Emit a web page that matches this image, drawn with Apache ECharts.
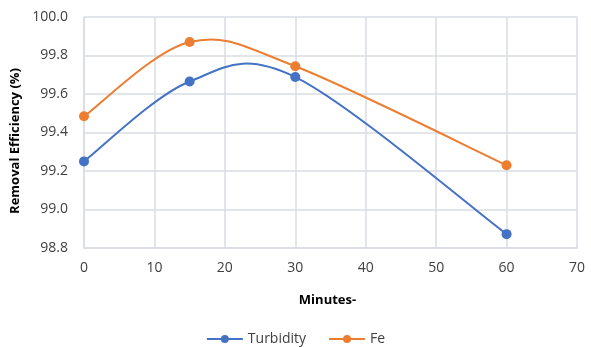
<!DOCTYPE html>
<html><head><meta charset="utf-8">
<script src="https://cdn.jsdelivr.net/npm/echarts@6/dist/echarts.min.js"></script>
<style>html,body{margin:0;padding:0;background:#fff}#c{width:591px;height:347px}</style>
</head><body><div id="c"></div>
<script>
const minutes = [0, 15, 30, 60];
const turbidity = [99.25, 99.665, 99.688, 98.872];
const fe = [99.484, 99.87, 99.744, 99.23];
const seriesNames = ['Turbidity', 'Fe'];
const xTitle = 'Minutes-';
const yTitle = 'Removal Efficiency (%)';
const colors = ['#4472c4', '#ed7d31'];

const chart = echarts.init(document.getElementById('c'), null, {renderer: 'canvas'});
const font = 'Open Sans';
const gridColor = '#d9dce3';
function pairs(xs, ys){ return xs.map((x,i)=>[x, ys[i]]); }

// Excel-style (Catmull-Rom, tension 1/6) smoothed curve drawn through the axes' coord transform
function smoothSeries(id, ys, color){
  return {
    id: id, name: id, type: 'custom', silent: true, z: 2,
    data: pairs(minutes, ys).slice(0, -1),
    renderItem: function(params, api){
      const i = params.dataIndex;
      const n = minutes.length;
      const P = k => api.coord([minutes[Math.max(0, Math.min(n-1, k))], ys[Math.max(0, Math.min(n-1, k))]]);
      const p0 = P(i-1), p1 = P(i), p2 = P(i+1), p3 = P(i+2);
      const c1 = [p1[0] + (p2[0]-p0[0])/6, p1[1] + (p2[1]-p0[1])/6];
      const c2 = [p2[0] - (p3[0]-p1[0])/6, p2[1] - (p3[1]-p1[1])/6];
      return {
        type: 'bezierCurve',
        shape: {x1: p1[0], y1: p1[1], x2: p2[0], y2: p2[1], cpx1: c1[0], cpy1: c1[1], cpx2: c2[0], cpy2: c2[1]},
        style: {stroke: color, lineWidth: 2, fill: null}
      };
    }
  };
}

chart.setOption({
  animation: false,
  textStyle: {fontFamily: font},
  grid: {left: 84, right: 14, top: 17, bottom: 99},
  legend: {
    top: 327, left: 'center', itemWidth: 36, itemHeight: 10, itemGap: 22,
    textStyle: {fontSize: 14, color: '#404040', fontFamily: font},
    data: seriesNames.map((n, i) => ({
      name: n,
      itemStyle: {color: colors[i]},
      lineStyle: {width: 2, opacity: 1, color: colors[i]}
    }))
  },
  graphic: [{
    type: 'text', x: 15, y: 141, rotation: Math.PI/2,
    style: {text: yTitle, fontFamily: font, fontWeight: 'bold', fontSize: 13, fill: '#000', align: 'center', verticalAlign: 'middle'}
  }],
  xAxis: {
    type: 'value', min: 0, max: 70, interval: 10,
    name: xTitle, nameLocation: 'middle', nameGap: 46,
    nameTextStyle: {fontWeight: 'bold', fontSize: 13, color: '#000', fontFamily: font, padding: [0, 6, 0, 0]},
    axisLine: {show: true, lineStyle: {color: gridColor, width: 1.5}},
    axisTick: {show: false},
    axisLabel: {fontSize: 14, color: '#404040', margin: 13},
    splitLine: {show: true, lineStyle: {color: gridColor, width: 1.5}}
  },
  yAxis: {
    type: 'value', min: 98.8, max: 100.0, interval: 0.2,
    axisLine: {show: true, lineStyle: {color: gridColor, width: 1.5}},
    axisTick: {show: false},
    axisLabel: {fontSize: 14, color: '#404040', margin: 16, formatter: v => v.toFixed(1)},
    splitLine: {show: true, lineStyle: {color: gridColor, width: 1.5}}
  },
  series: [
    smoothSeries('curve-turbidity', turbidity, colors[0]),
    smoothSeries('curve-fe', fe, colors[1]),
    {name: seriesNames[0], type: 'line', data: pairs(minutes, turbidity), z: 3,
     symbol: 'circle', symbolSize: 10, itemStyle: {color: colors[0]}, lineStyle: {width: 0, opacity: 0}},
    {name: seriesNames[1], type: 'line', data: pairs(minutes, fe), z: 3,
     symbol: 'circle', symbolSize: 10, itemStyle: {color: colors[1]}, lineStyle: {width: 0, opacity: 0}}
  ]
});
</script></body></html>
